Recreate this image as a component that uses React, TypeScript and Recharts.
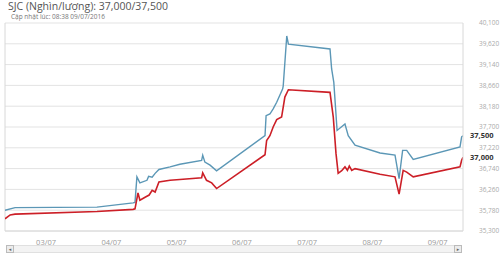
import React from 'react';
import { LineChart, Line, XAxis, YAxis, CartesianGrid, ReferenceLine } from 'recharts';

const titleText = 'SJC (Nghìn/lượng): 37,000/37,500';
const subtitleText = 'Cập nhật lúc: 08:38 09/07/2016';

const dayTicks = [24, 48, 72, 96, 120, 144, 168];
const dayLabels = ['03/07', '04/07', '05/07', '06/07', '07/07', '08/07', '09/07'];
const priceTicks = [35300, 35780, 36260, 36740, 37220, 37700, 38180, 38660, 39140, 39620, 40100];

const sellHours = [8.9, 12.6, 42.7, 56.0, 56.7, 57.4, 58.5, 61.1, 61.7, 63.0, 64.1, 65.5, 69.6, 73.2, 81.2, 81.6, 82.4, 84.3, 86.7, 104.5, 104.9, 106.3, 107.5, 108.8, 111.0, 111.2, 112.5, 113.1, 128.4, 129.0, 129.8, 131.0, 133.9, 135.1, 137.6, 146.8, 152.3, 153.8, 155.1, 156.6, 159.0, 176.2, 176.8, 177.3];
const sellValues = [35780, 35840, 35850, 35950, 35960, 36550, 36410, 36470, 36560, 36540, 36630, 36720, 36780, 36840, 36930, 37050, 36890, 36820, 36690, 37500, 37960, 38000, 38120, 38270, 38580, 38650, 39800, 39610, 39500, 39040, 38730, 37620, 37770, 37500, 37280, 37100, 37050, 36510, 37160, 37160, 36950, 37240, 37470, 37500];

const buyHours = [8.9, 10.8, 12.6, 42.7, 56.0, 56.7, 57.8, 58.5, 60.4, 61.9, 63.0, 64.1, 65.5, 69.6, 73.2, 81.2, 81.6, 83.0, 84.9, 86.7, 104.5, 105.1, 106.3, 107.5, 108.8, 110.6, 111.8, 113.1, 128.4, 129.6, 130.6, 131.4, 132.7, 133.9, 134.8, 135.5, 136.4, 137.6, 146.8, 152.3, 153.8, 155.3, 156.6, 159.0, 176.2, 176.8, 177.3];
const buyValues = [35580, 35670, 35690, 35750, 35800, 35810, 36180, 36010, 36080, 36130, 36240, 36200, 36430, 36470, 36490, 36530, 36640, 36470, 36410, 36280, 37060, 37390, 37500, 37700, 37870, 37930, 38390, 38560, 38500, 37930, 37090, 36630, 36690, 36780, 36700, 36800, 36700, 36740, 36610, 36550, 36150, 36700, 36660, 36550, 36780, 36930, 37000];

const latestSell = 37500;
const latestBuy = 37000;

const sellData = sellHours.map((h, i) => ({ h, v: sellValues[i] }));
const buyData = buyHours.map((h, i) => ({ h, v: buyValues[i] }));

const fmt = (n: number) => n.toLocaleString('en-US');
const FONT = '"Open Sans", "DejaVu Sans", sans-serif';

export default function App() {
  return (
    <div style={{ position: 'absolute', left: 0, top: 0, width: 500, height: 256, background: '#fff', fontFamily: FONT, overflow: 'hidden' }}>
      <div style={{ position: 'absolute', left: 8, top: 0, fontSize: 10.5, lineHeight: '12px', color: '#555', whiteSpace: 'nowrap' }}>{titleText}</div>
      <div style={{ position: 'absolute', left: 11, top: 13, fontSize: 6.5, lineHeight: '8px', color: '#777', whiteSpace: 'nowrap' }}>{subtitleText}</div>
      <div style={{ position: 'absolute', left: 0, top: 0 }}>
        <LineChart width={500} height={256} margin={{ top: 23, right: 0, bottom: 0, left: 5 }}>
          <CartesianGrid horizontal={true} vertical={false} stroke="#e3e3e3" />
          <XAxis
            type="number"
            dataKey="h"
            domain={[8.9, 177.3]}
            ticks={dayTicks}
            tickFormatter={(v: number) => dayLabels[dayTicks.indexOf(v)] ?? ''}
            allowDataOverflow
            height={25}
            tickLine={false}
            axisLine={{ stroke: '#d8d8d8' }}
            tick={{ fontSize: 7.5, fill: '#999', fontFamily: FONT }}
            tickMargin={3}
          />
          <YAxis
            orientation="right"
            type="number"
            domain={[35300, 40100]}
            ticks={priceTicks}
            tickFormatter={fmt}
            width={37}
            tickLine={false}
            axisLine={{ stroke: '#d8d8d8' }}
            tick={{ fontSize: 6.5, fill: '#aaa', fontFamily: FONT, textAnchor: 'start' }}
            tickMargin={10}
            interval={0}
          />
          <ReferenceLine x={8.9} stroke="#d8d8d8" />
          <ReferenceLine
            y={latestSell}
            stroke="none"
            label={{ value: fmt(latestSell), position: 'right', offset: 7, fill: '#333', fontSize: 7.5, fontWeight: 'bold', fontFamily: FONT }}
          />
          <ReferenceLine
            y={latestBuy}
            stroke="none"
            label={{ value: fmt(latestBuy), position: 'right', offset: 7, fill: '#333', fontSize: 7.5, fontWeight: 'bold', fontFamily: FONT }}
          />
          <Line data={sellData} dataKey="v" type="linear" stroke="#5b97b6" strokeWidth={1.4} dot={false} isAnimationActive={false} />
          <Line data={buyData} dataKey="v" type="linear" stroke="#cc1f27" strokeWidth={1.6} dot={false} isAnimationActive={false} />
        </LineChart>
      </div>
      <div style={{ position: 'absolute', left: 12, top: 245, width: 442, height: 6, background: '#f3f3f3', border: '1px solid #e0e0e0' }} />
      <div style={{ position: 'absolute', left: 6, top: 245, width: 6, height: 6, background: '#ececec', border: '1px solid #bbb', fontSize: 5, lineHeight: '6px', textAlign: 'center', color: '#666' }}>◂</div>
      <div style={{ position: 'absolute', left: 454, top: 245, width: 6, height: 6, background: '#ececec', border: '1px solid #bbb', fontSize: 5, lineHeight: '6px', textAlign: 'center', color: '#666' }}>▸</div>
    </div>
  );
}
